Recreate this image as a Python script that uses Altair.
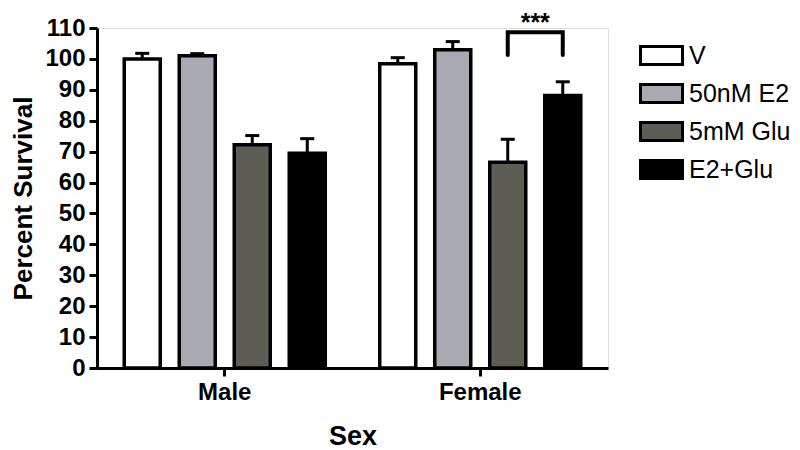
import altair as alt
import pandas as pd

sexes = ["Male", "Female"]
treatments = ["V", "50nM E2", "5mM Glu", "E2+Glu"]
colors = ["#ffffff", "#a9a9b1", "#5d5d56", "#000000"]
male_means = [100.0, 101.0, 72.2, 69.5]
male_sem = [1.8, 0.7, 3.0, 4.7]
female_means = [98.4, 103.0, 66.6, 88.2]
female_sem = [2.0, 2.6, 7.4, 4.4]
y_ticks = [0, 10, 20, 30, 40, 50, 60, 70, 80, 90, 100, 110]

# significance bracket (Female: 5mM Glu vs E2+Glu)
bracket_sex = "Female"
bracket_groups = ["5mM Glu", "5mM Glu", "E2+Glu", "E2+Glu"]
bracket_levels = [101.3, 108.6, 108.6, 101.3]
sig_label = "***"
sig_level = 114.5

FONT = "Liberation Sans"

rows = []
for s, means, sems in [("Male", male_means, male_sem), ("Female", female_means, female_sem)]:
    for t, m, e in zip(treatments, means, sems):
        rows.append({"sex": s, "treatment": t, "mean": m, "upper": m + e})
df = pd.DataFrame(rows)

br = pd.DataFrame({"sex": [bracket_sex] * 4, "treatment": bracket_groups,
                   "y": bracket_levels, "order": [0, 1, 2, 3]})
sig = pd.DataFrame({"sex": [bracket_sex], "treatment": ["5mM Glu"], "y": [sig_level], "t": [sig_label]})

x_axis = alt.Axis(title="Sex", labelAngle=0, labelFont=FONT, labelFontSize=24,
                  labelFontWeight="bold", labelColor="black", labelPadding=4,
                  tickSize=8, tickWidth=3, tickColor="black",
                  domainWidth=3, domainColor="black",
                  titleFont=FONT, titleFontSize=27, titleFontWeight="bold",
                  titleColor="black", titleBaseline="alphabetic", titleY=76)
x_scale = alt.Scale(paddingInner=0, paddingOuter=0)
xo_scale = alt.Scale(paddingInner=0.345, paddingOuter=0.495)
y_scale = alt.Scale(domain=[0, 110], nice=False, zero=True)
y_axis = alt.Axis(title="Percent Survival", values=y_ticks, tickCount=12,
                  labelOverlap=False, labelFlush=False,
                  labelFont=FONT, labelFontSize=24, labelFontWeight="bold",
                  labelColor="black", labelPadding=4, tickSize=8, tickWidth=3,
                  tickColor="black", domainWidth=3, domainColor="black", grid=False,
                  titleFont=FONT, titleFontSize=26, titleFontWeight="bold",
                  titleColor="black", titleBaseline="alphabetic", titleX=-66, titleY=170,
                  titleAngle=-90)


def X():
    return alt.X("sex:N", sort=sexes, scale=x_scale, axis=x_axis)


def XO():
    return alt.XOffset("treatment:N", sort=treatments, scale=xo_scale)


def Y(field):
    return alt.Y(field, scale=y_scale, axis=y_axis)


bars = alt.Chart(df).mark_bar(stroke="black", strokeWidth=3.5).encode(
    x=X(), xOffset=XO(), y=Y("mean:Q"),
    fill=alt.Fill("treatment:N", sort=treatments,
                  scale=alt.Scale(domain=treatments, range=colors),
                  legend=alt.Legend(title=None, orient="none", legendX=552, legendY=15,
                                    symbolType="M-2,-0.85H2V0.85H-2Z", symbolSize=441,
                                    symbolStrokeColor="black", symbolStrokeWidth=3,
                                    symbolOpacity=1, labelFont=FONT, labelFontSize=25,
                                    labelColor="black", labelOffset=15, rowPadding=7,
                                    padding=0)),
)

err = alt.Chart(df).mark_rule(color="black", strokeWidth=3).encode(
    x=X(), xOffset=XO(), y=Y("mean:Q"), y2="upper:Q")
caps = alt.Chart(df).mark_tick(color="black", thickness=3, size=14, orient="horizontal", opacity=1).encode(
    x=X(), xOffset=XO(), y=Y("upper:Q"))

bracket = alt.Chart(br).mark_line(color="black", strokeWidth=4, strokeCap="round").encode(
    x=X(), xOffset=XO(), y=Y("y:Q"), order="order:Q")

stars = alt.Chart(sig).mark_text(font=FONT, fontSize=25, fontWeight="bold", color="black",
                                  baseline="middle", dx=27.5, dy=9).encode(
    x=X(), xOffset=XO(), y=Y("y:Q"), text="t:N")

chart = alt.layer(bars, err, caps, bracket, stars).properties(
    width=511, height=340,
    autosize=alt.AutoSizeParams(type="none"),
    padding={"left": 89, "top": 20, "right": 184, "bottom": 82},
).configure_view(stroke=None).configure(background="white")

chart.save("out.html", embed_options={"renderer": "svg", "actions": False})
